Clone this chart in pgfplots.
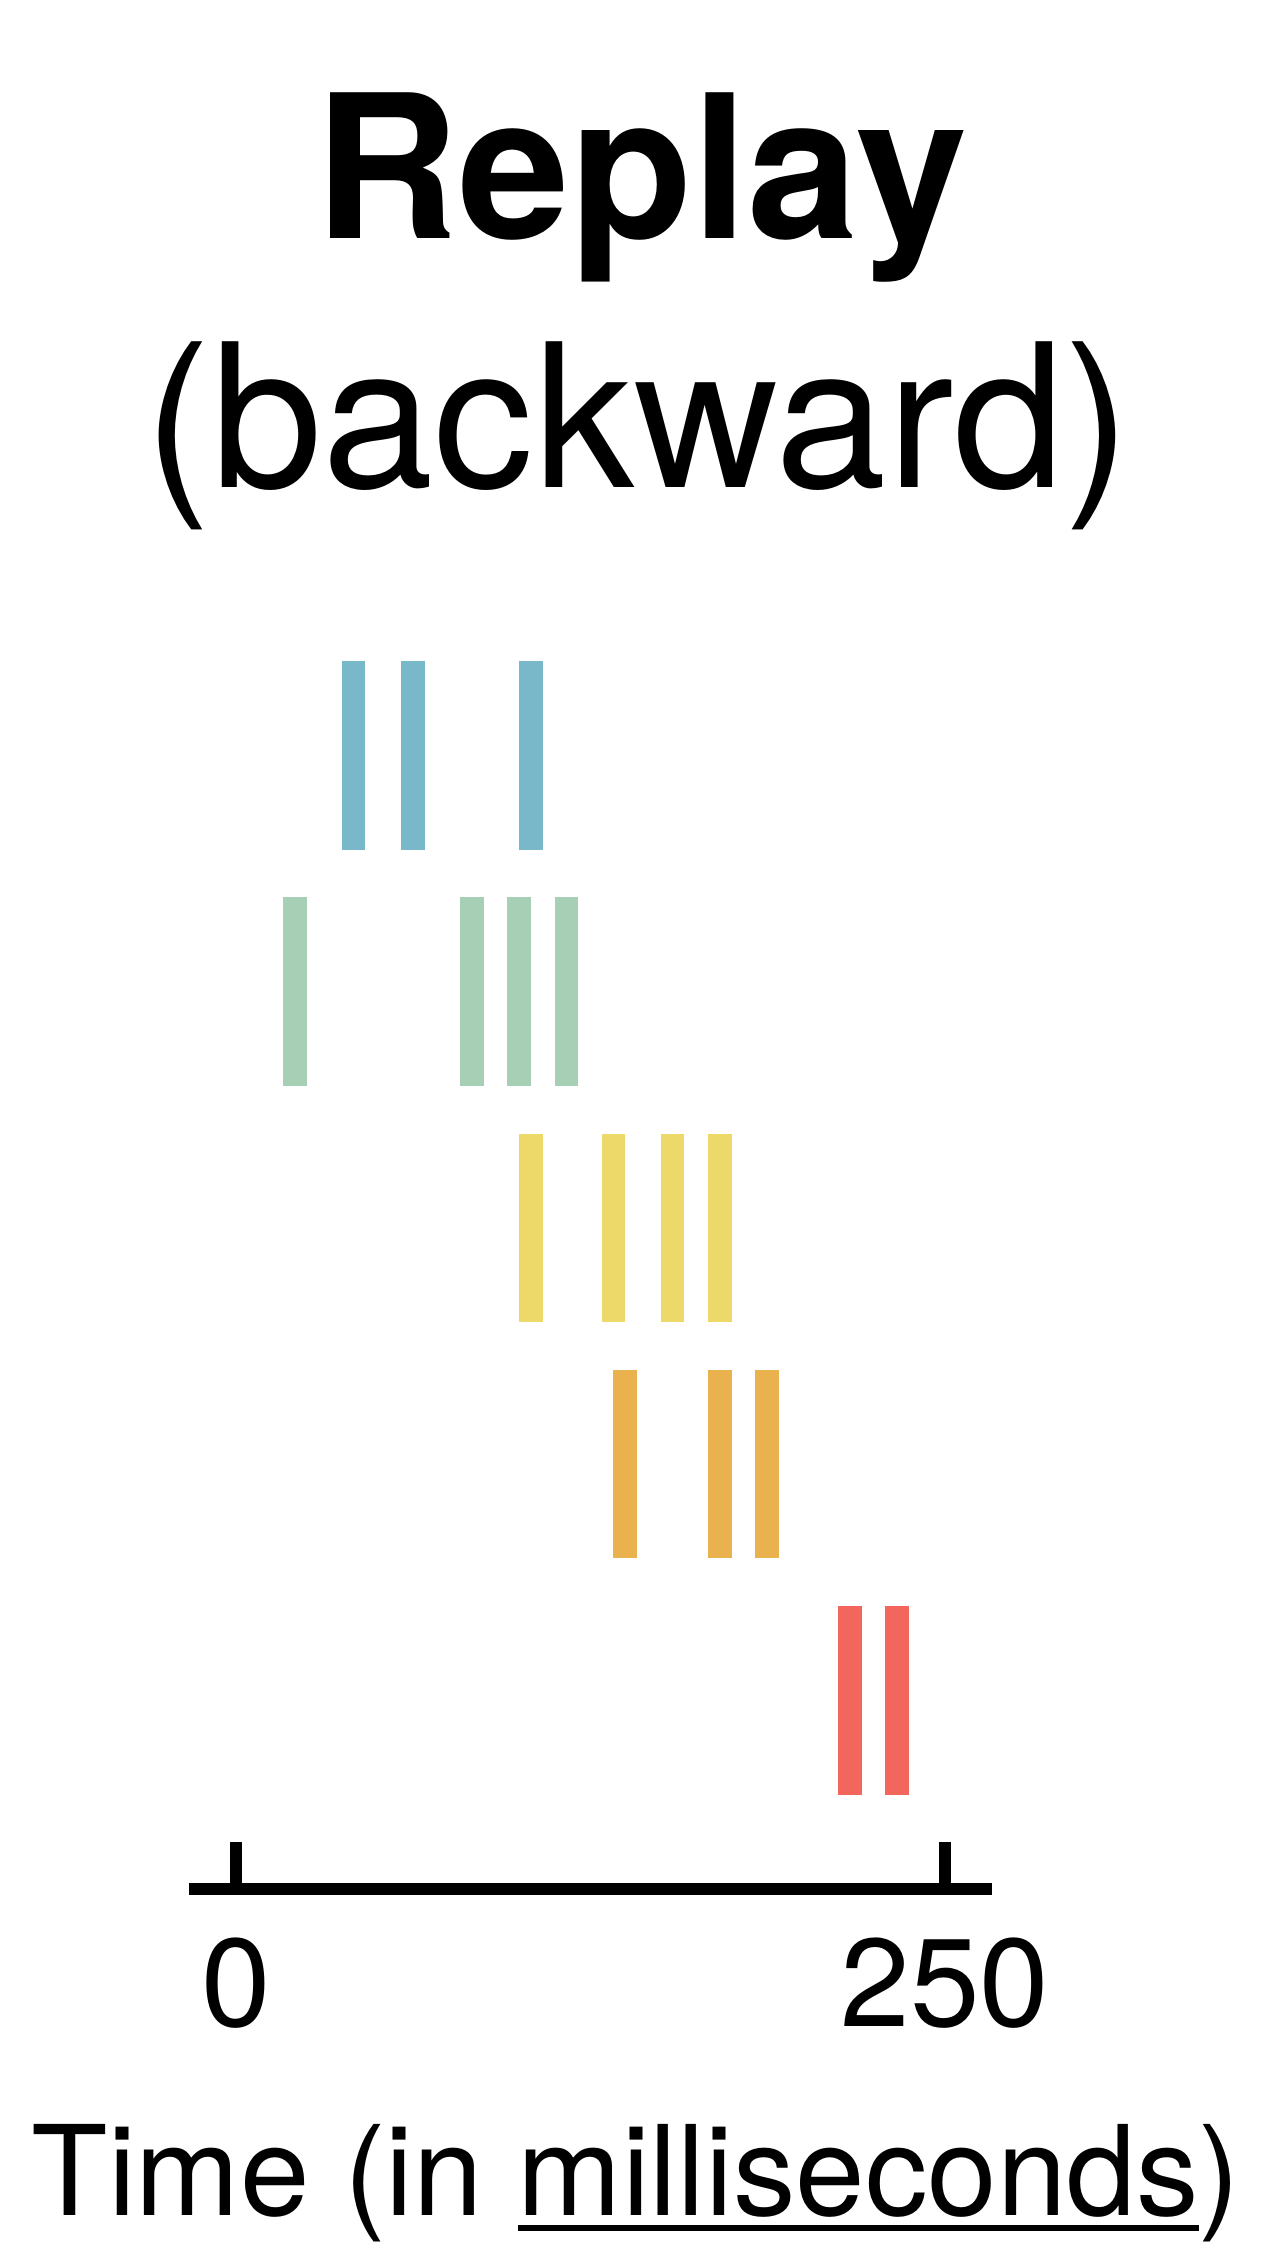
\documentclass[border=0pt]{standalone}
\usepackage{fontspec}
\setmainfont{TeX Gyre Heros}
\usepackage{pgfplots}
\pgfplotsset{compat=1.18}
\definecolor{cblue}{HTML}{78B8C9}
\definecolor{cgreen}{HTML}{A6CFB6}
\definecolor{cyellow}{HTML}{ECD96A}
\definecolor{corange}{HTML}{E9B24E}
\definecolor{cred}{HTML}{F2665E}
\newcommand\ul[1]{\setbox0=\hbox{#1}\rlap{\rule[-3.2pt]{\wd0}{1.3pt}}\box0}
\begin{document}
\begin{tikzpicture}
\begin{axis}[
  at={(0pt,0pt)}, anchor=south west,
  width=160.52pt, height=250.26pt, scale only axis,
  xmin=-16.5, xmax=266.4, ymin=-5.8, ymax=-0.5,
  axis x line*=bottom, axis y line=none,
  x axis line style={line width=2.54pt, -},
  xtick={0,250}, ytick=\empty,
  tick align=inside, major tick length=9.4pt,
  xtick style={line width=2.52pt, black},
  xticklabel style={font=\fontsize{25}{30}\selectfont, inner sep=0pt, anchor=north, yshift=-9.6pt},
  /pgf/number format/assume math mode=true,
  clip=false,
  unbounded coords=jump,
]
% row 1 (blue)
\addplot[cblue, line width=4.7pt] coordinates {
  (41.4,-0.6) (41.4,-1.4) (41.4,nan)
  (62.4,-0.6) (62.4,-1.4) (62.4,nan)
  (104.0,-0.6) (104.0,-1.4)};
% row 2 (green)
\addplot[cgreen, line width=4.7pt] coordinates {
  (20.9,-1.6) (20.9,-2.4) (20.9,nan)
  (83.3,-1.6) (83.3,-2.4) (83.3,nan)
  (99.8,-1.6) (99.8,-2.4) (99.8,nan)
  (116.5,-1.6) (116.5,-2.4)};
% row 3 (yellow)
\addplot[cyellow, line width=4.7pt] coordinates {
  (104.0,-2.6) (104.0,-3.4) (104.0,nan)
  (133.1,-2.6) (133.1,-3.4) (133.1,nan)
  (154.0,-2.6) (154.0,-3.4) (154.0,nan)
  (170.7,-2.6) (170.7,-3.4)};
% row 4 (orange)
\addplot[corange, line width=4.7pt] coordinates {
  (137.2,-3.6) (137.2,-4.4) (137.2,nan)
  (170.7,-3.6) (170.7,-4.4) (170.7,nan)
  (187.2,-3.6) (187.2,-4.4)};
% row 5 (red)
\addplot[cred, line width=4.7pt] coordinates {
  (216.4,-4.6) (216.4,-5.4) (216.4,nan)
  (233.1,-4.6) (233.1,-5.4)};
\end{axis}
\node[anchor=base, font=\fontsize{40}{48}\selectfont\bfseries] at (90.4pt,330.1pt) {Replay};
\node[anchor=base, font=\fontsize{40}{48}\selectfont] at (89.8pt,280.4pt) {(backward)};
\node[anchor=base, font=\fontsize{25}{30}\selectfont] at (89.4pt,-65.2pt) {Time (in \ul{milliseconds})};
\pgfresetboundingbox
\useasboundingbox (-37.8pt,377.8pt) rectangle (217.2pt,-75.6pt);
\end{tikzpicture}
\end{document}
